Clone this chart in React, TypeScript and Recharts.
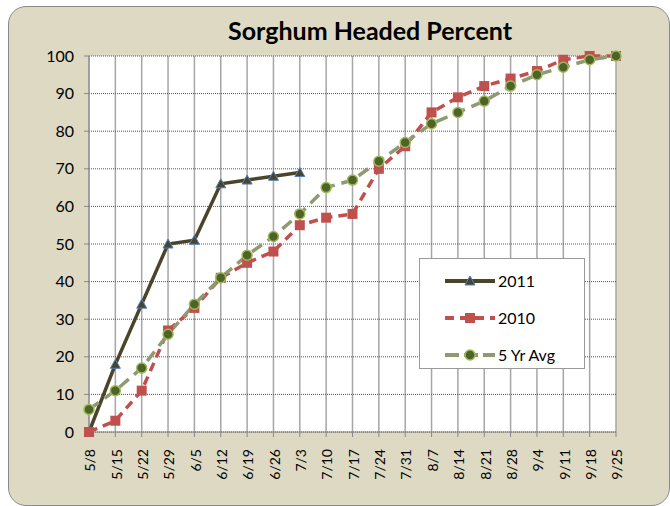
import { LineChart, Line, XAxis, YAxis, CartesianGrid } from 'recharts'

const categories = ['5/8', '5/15', '5/22', '5/29', '6/5', '6/12', '6/19', '6/26', '7/3', '7/10', '7/17', '7/24', '7/31', '8/7', '8/14', '8/21', '8/28', '9/4', '9/11', '9/18', '9/25']
const y2011: (number | null)[] = [0, 18, 34, 50, 51, 66, 67, 68, 69, null, null, null, null, null, null, null, null, null, null, null, null]
const y2010 = [0, 3, 11, 27, 33, 41, 45, 48, 55, 57, 58, 70, 76, 85, 89, 92, 94, 96, 99, 100, 100]
const avg5 = [6, 11, 17, 26, 34, 41, 47, 52, 58, 65, 67, 72, 77, 82, 85, 88, 92, 95, 97, 99, 100]
const yTicks = [0, 10, 20, 30, 40, 50, 60, 70, 80, 90, 100]

const data = categories.map((name, i) => ({ name, y2011: y2011[i], y2010: y2010[i], avg5: avg5[i] }))

const font = 'Lato, "Open Sans", sans-serif'
const c2011 = '#4A452A'
const c2010 = '#C0504D'
const cAvg = '#8E9B72'

function Triangle({ cx, cy }: any) {
  if (cx == null || cy == null) return null
  return <path d={`M${cx},${cy - 5} L${cx + 5},${cy + 4} L${cx - 5},${cy + 4} Z`} fill={c2011} stroke="#4F81BD" strokeWidth={1} />
}

function Square({ cx, cy }: any) {
  if (cx == null || cy == null) return null
  return <rect x={cx - 5} y={cy - 5} width={10} height={10} fill={c2010} />
}

function Circle({ cx, cy }: any) {
  if (cx == null || cy == null) return null
  return <circle cx={cx} cy={cy} r={5} fill="#4F6228" stroke="#9BBB59" strokeWidth={1.5} />
}

function DateTick({ x, y, payload }: any) {
  return (
    <text x={x} y={y} transform={`rotate(-90, ${x}, ${y})`} textAnchor="end" dy="0.45em" fontFamily={font} fontSize={14} fill="#000">
      {payload.value}
    </text>
  )
}

function LegendBox() {
  const rows = [
    { label: '2011', color: c2011, dash: undefined, marker: <Triangle cx={50} cy={15} /> },
    { label: '2010', color: c2010, dash: '9 6', marker: <Square cx={50} cy={15} /> },
    { label: '5 Yr Avg', color: cAvg, dash: '14 5', marker: <Circle cx={50} cy={15} /> },
  ]
  return (
    <div style={{ position: 'absolute', left: 419, top: 258, width: 166, height: 111, background: '#fff', border: '1px solid #999', boxSizing: 'border-box', paddingTop: 3 }}>
      {rows.map((r) => (
        <div key={r.label} style={{ display: 'flex', alignItems: 'center', height: 37 }}>
          <svg width={78} height={30}>
            <line x1={25} x2={75} y1={15} y2={15} stroke={r.color} strokeWidth={4} strokeDasharray={r.dash} />
            {r.marker}
          </svg>
          <span style={{ fontFamily: font, fontSize: 16, color: '#000' }}>{r.label}</span>
        </div>
      ))}
    </div>
  )
}

export default function App() {
  return (
    <div style={{ position: 'absolute', left: 0, top: 0, width: 670, height: 506, background: '#fff', overflow: 'hidden' }}>
      <div style={{ position: 'absolute', left: 8, top: 6, width: 660, height: 498, background: '#DDD9C3', border: '1.5px solid #8a8a8a', borderRadius: 18 }} />
      <div style={{ position: 'absolute', left: 0, top: 15, width: 740, textAlign: 'center', fontFamily: font, fontWeight: 'bold', fontSize: 25, color: '#000' }}>
        Sorghum Headed Percent
      </div>
      <div style={{ position: 'absolute', left: 0, top: 0 }}>
        <LineChart width={670} height={506} data={data} margin={{ top: 56, right: 54, bottom: 0, left: 39 }}>
          <CartesianGrid horizontal={false} vertical stroke="#A6A6A6" strokeWidth={1.5} fill="#fff" />
          <CartesianGrid horizontal vertical={false} stroke="#555" strokeDasharray="1 1" />
          <XAxis
            dataKey="name"
            interval={0}
            stroke="#888"
            tickLine={{ stroke: '#888' }}
            tickSize={5}
            tickMargin={12}
            height={74}
            tick={<DateTick />}
          />
          <YAxis
            width={50}
            domain={[0, 100]}
            ticks={yTicks}
            interval={0}
            stroke="#888"
            tickSize={5}
            tickMargin={10}
            tick={{ fontFamily: font, fontSize: 16, fill: '#000' }}
          />
          <Line dataKey="y2011" name="2011" stroke={c2011} strokeWidth={3.5} dot={<Triangle />} activeDot={false} isAnimationActive={false} connectNulls={false} />
          <Line dataKey="y2010" name="2010" stroke={c2010} strokeWidth={3.5} strokeDasharray="9 6" dot={<Square />} activeDot={false} isAnimationActive={false} />
          <Line dataKey="avg5" name="5 Yr Avg" stroke={cAvg} strokeWidth={3.5} strokeDasharray="12 7" dot={<Circle />} activeDot={false} isAnimationActive={false} />
        </LineChart>
      </div>
      <LegendBox />
    </div>
  )
}
